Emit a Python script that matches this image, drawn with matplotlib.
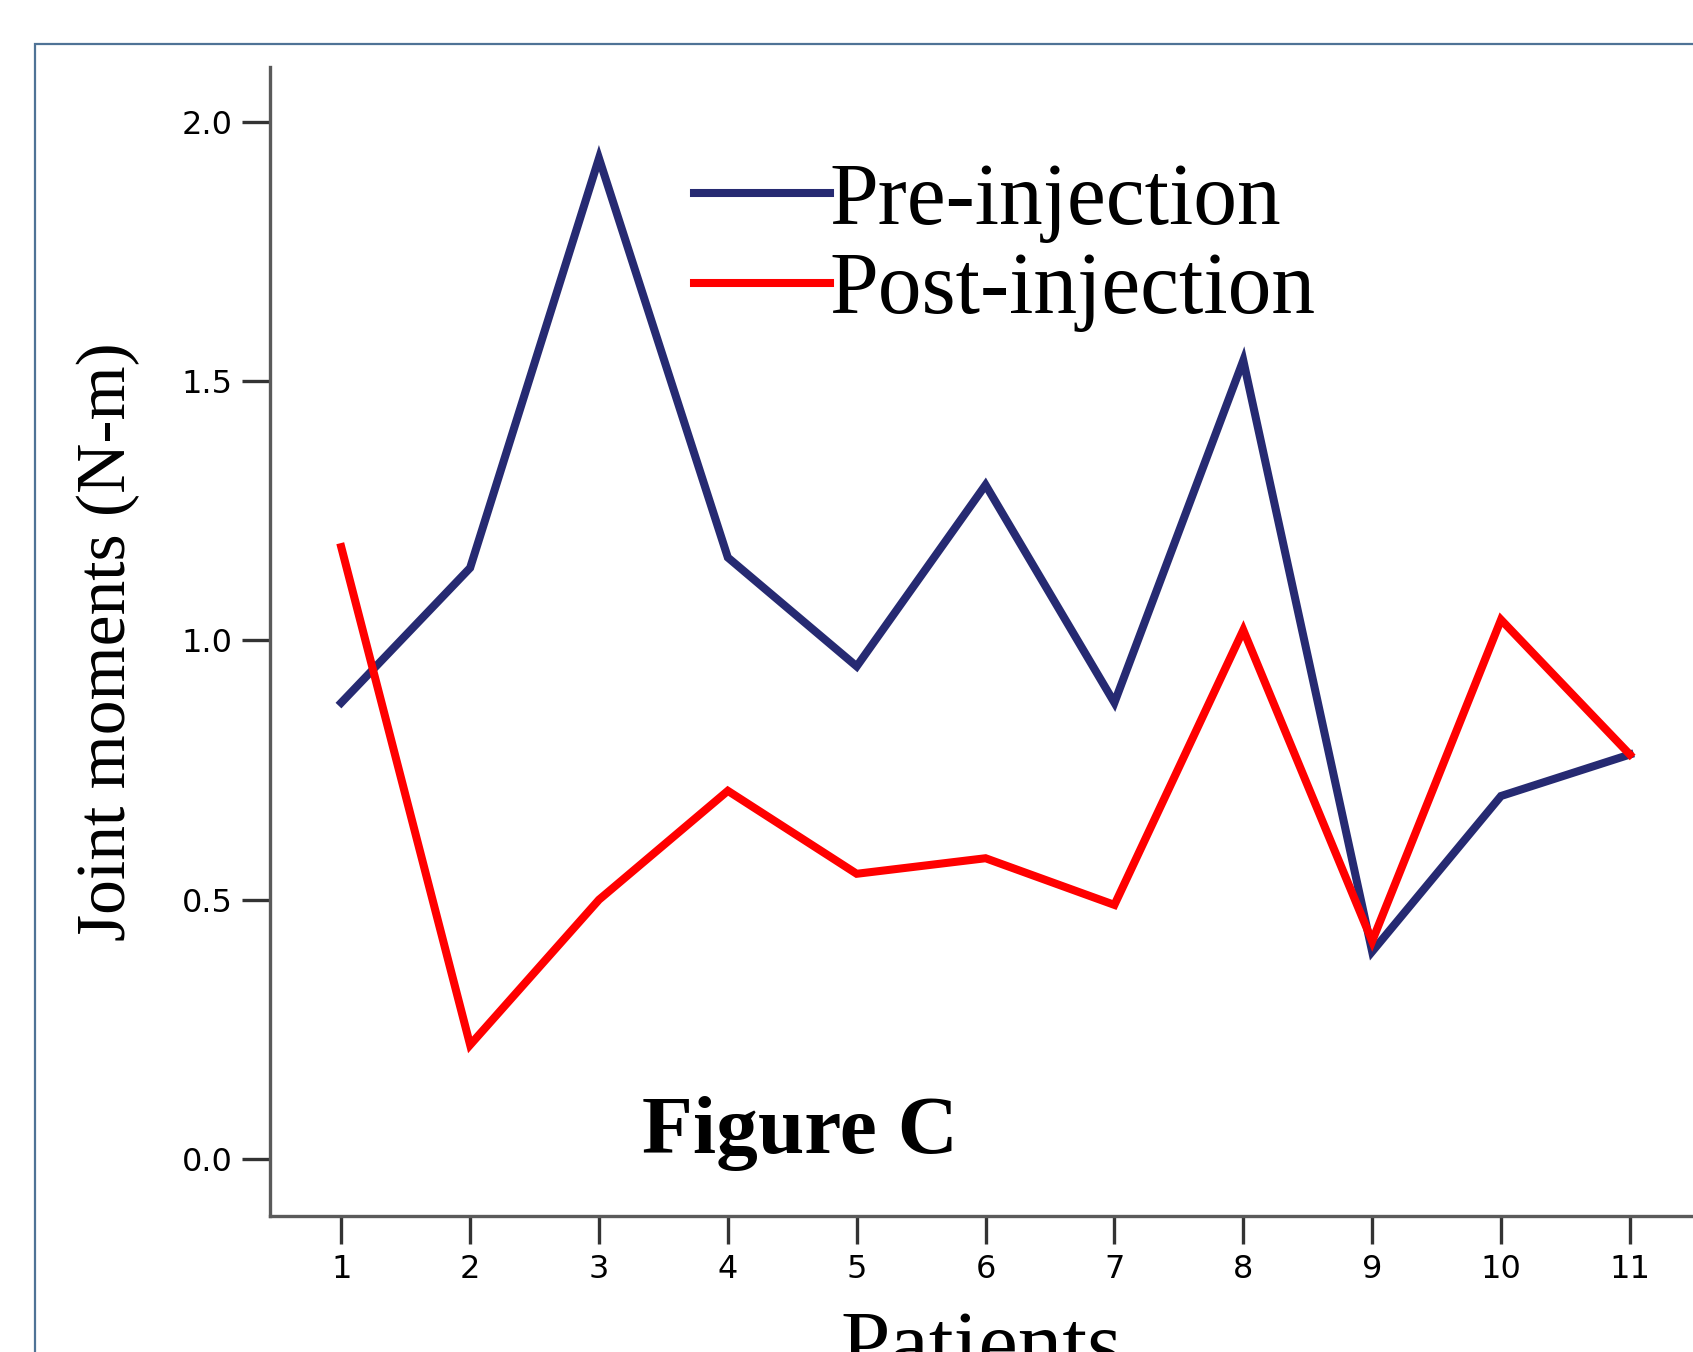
import matplotlib
matplotlib.use("Agg")
import matplotlib.pyplot as plt
from matplotlib.patches import Rectangle

patients = [1, 2, 3, 4, 5, 6, 7, 8, 9, 10, 11]
pre_injection = [0.88, 1.14, 1.93, 1.16, 0.95, 1.30, 0.88, 1.54, 0.40, 0.70, 0.78]
post_injection = [1.18, 0.22, 0.50, 0.71, 0.55, 0.58, 0.49, 1.02, 0.42, 1.04, 0.78]
yticks = [0.0, 0.5, 1.0, 1.5, 2.0]

navy = '#262a72'
red = '#ff0000'
serif = 'Liberation Serif'

fig = plt.figure(figsize=(16.93, 13.52), dpi=100)
ax = fig.add_axes([270/1693, (1352-1216)/1352, (1693-270)/1693, (1216-67)/1352])

ax.plot(patients, pre_injection, color=navy, lw=5.8, label='Pre-injection', solid_joinstyle='miter')
ax.plot(patients, post_injection, color=red, lw=5.8, label='Post-injection', solid_joinstyle='miter')

ax.set_xlim(0.447, 11.49)
ax.set_ylim(-0.11, 2.106)
ax.set_xticks(patients)
ax.set_yticks(yticks)
ax.set_yticklabels(['%.1f' % v for v in yticks])

for s in ['top', 'right']:
    ax.spines[s].set_visible(False)
for s in ['left', 'bottom']:
    ax.spines[s].set_color('#5a5a5a')
    ax.spines[s].set_linewidth(2.4)

ax.tick_params(axis='both', direction='out', length=20, width=2.4, color='#333333',
               labelsize=23, labelcolor='black')
ax.tick_params(axis='y', pad=7)
ax.tick_params(axis='x', pad=7)

ax.set_ylabel('Joint moments (N-m)', fontfamily=serif, fontsize=50, va='center')
ax.yaxis.set_label_coords(-0.1135, 0.5)
ax.set_xlabel('Patients', fontfamily=serif, fontsize=64, va='top')
ax.xaxis.set_label_coords(0.5, -0.082)

ax.text(0.3725, 0.0548, 'Figure C', transform=ax.transAxes, fontfamily=serif,
        fontsize=60, fontweight='bold', ha='center', va='baseline')

leg = ax.legend(loc='center left', bbox_to_anchor=(694/1693, 1 - 247/1352),
                bbox_transform=fig.transFigure, frameon=False,
                prop={'family': serif, 'size': 63}, handlelength=1.55,
                handletextpad=0.0, borderpad=0, borderaxespad=0, labelspacing=0.1)

fig.patches.append(Rectangle((35/1693, -0.1), 2.0, 1.1 - 44/1352,
                             transform=fig.transFigure, fill=False,
                             edgecolor='#4f7396', lw=1.6))

fig.savefig('out.png', dpi=100)
